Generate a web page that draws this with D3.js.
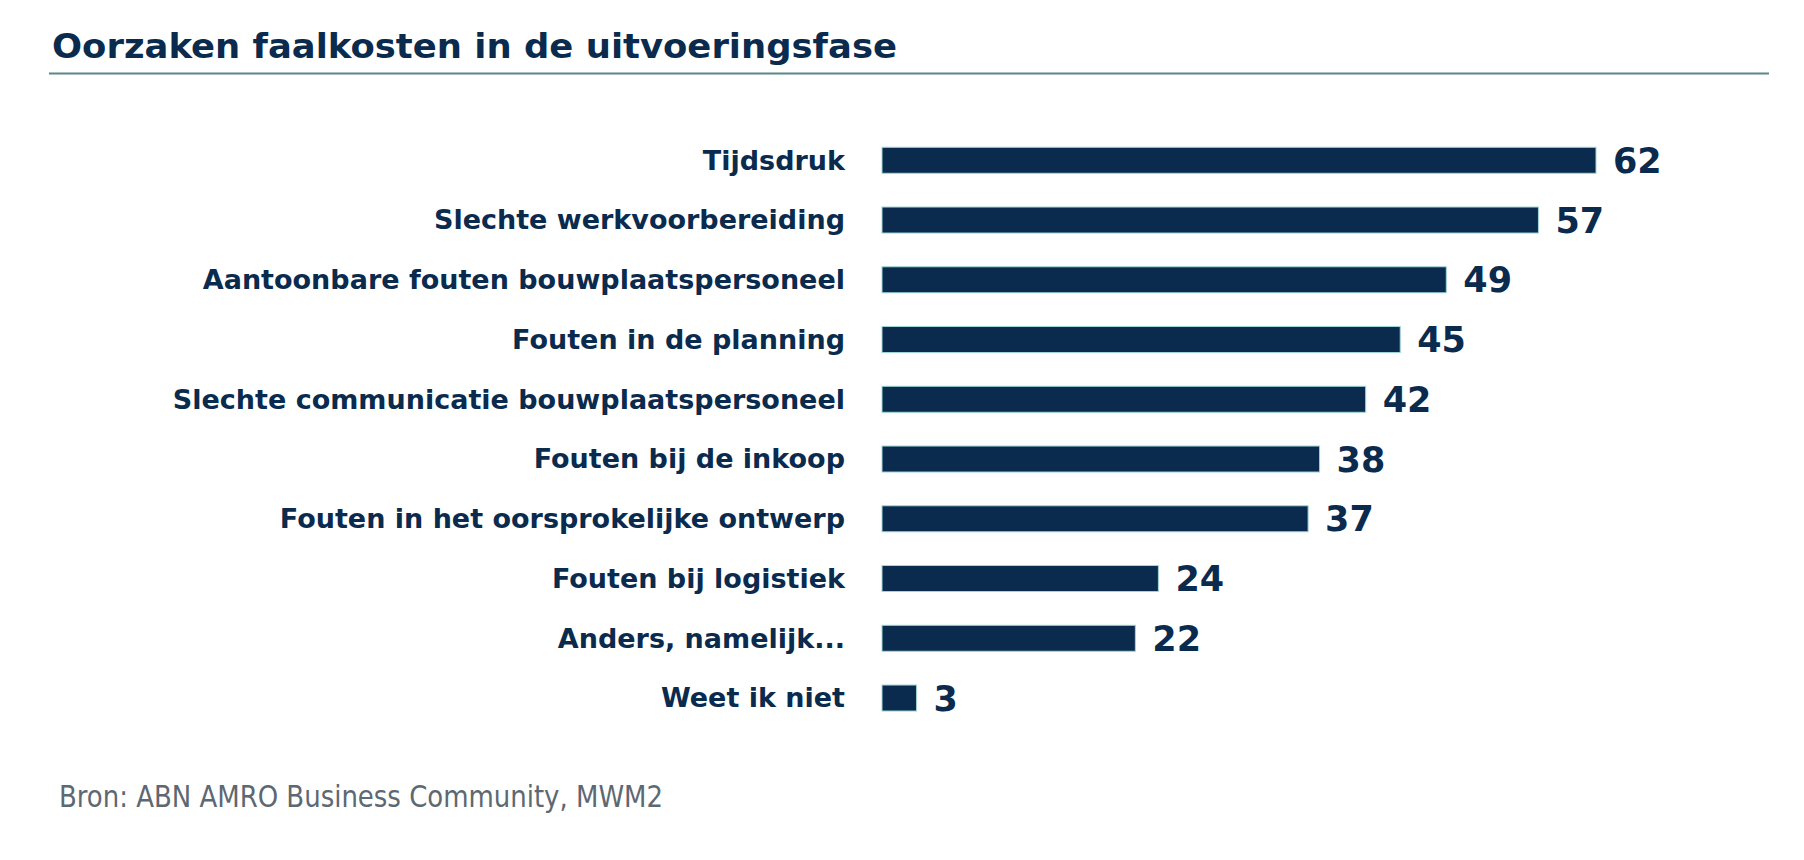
<!DOCTYPE html>
<html>
<head>
<meta charset="utf-8">
<script src="https://cdn.jsdelivr.net/npm/d3@7"></script>
<style>
  body { margin: 0; background: #fff; }
</style>
</head>
<body>
<svg id="chart" width="1804" height="860"></svg>
<script>
// data
var categories = [
  "Tijdsdruk",
  "Slechte werkvoorbereiding",
  "Aantoonbare fouten bouwplaatspersoneel",
  "Fouten in de planning",
  "Slechte communicatie bouwplaatspersoneel",
  "Fouten bij de inkoop",
  "Fouten in het oorsprokelijke ontwerp",
  "Fouten bij logistiek",
  "Anders, namelijk...",
  "Weet ik niet"
];
var values = [62, 57, 49, 45, 42, 38, 37, 24, 22, 3];

var titleText = "Oorzaken faalkosten in de uitvoeringsfase";
var sourceText = "Bron: ABN AMRO Business Community, MWM2";

var navy = "#0a2b4e";
var boldFont = "'DejaVu Sans', 'Open Sans', sans-serif";
var rows = categories.map(function(c, i){ return {name: c, value: values[i]}; });

var svg = d3.select("#chart");

// Title + rule
svg.append("text")
    .attr("x", 52)
    .attr("y", 58)
    .attr("fill", navy)
    .attr("font-family", boldFont)
    .attr("font-weight", 700)
    .attr("font-size", 34)
    .attr("textLength", 845)
    .attr("lengthAdjust", "spacingAndGlyphs")
    .text(titleText);

svg.append("line")
    .attr("x1", 49).attr("x2", 1769)
    .attr("y1", 73.5).attr("y2", 73.5)
    .attr("stroke", "#5d8787")
    .attr("stroke-width", 2);

// scales
var x = d3.scaleLinear()
    .domain([0, 62])
    .range([882, 1596]);

var y = d3.scaleBand()
    .domain(categories)
    .range([130.4, 727.9])
    .paddingInner(0.565)
    .paddingOuter(0.2825);

// Bars
var bars = svg.append("g").attr("id", "bars")
    .selectAll("rect.bar")
    .data(rows);
bars.enter()
    .append("rect")
    .attr("class", "bar")
    .attr("x", x(0))
    .attr("y", function(d){ return y(d.name); })
    .attr("width", function(d){ return x(d.value) - x(0); })
    .attr("height", y.bandwidth())
    .attr("fill", navy)
    .attr("stroke", "#9fd6d6")
    .attr("stroke-width", 1);

// Category labels
svg.append("g").attr("id", "labels")
    .selectAll("text.cat")
    .data(rows)
    .enter()
    .append("text")
    .attr("class", "cat")
    .attr("x", x(0) - 37)
    .attr("y", function(d){ return y(d.name) + y.bandwidth() / 2; })
    .attr("dy", "0.35em")
    .attr("text-anchor", "end")
    .attr("fill", navy)
    .attr("font-family", boldFont)
    .attr("font-weight", 700)
    .attr("font-size", 27)
    .text(function(d){ return d.name; });

// Value labels
svg.append("g").attr("id", "values")
    .selectAll("text.val")
    .data(rows)
    .enter()
    .append("text")
    .attr("class", "val")
    .attr("x", function(d){ return x(d.value) + 17; })
    .attr("y", function(d){ return y(d.name) + y.bandwidth() / 2; })
    .attr("dy", "0.36em")
    .attr("fill", navy)
    .attr("font-family", boldFont)
    .attr("font-weight", 700)
    .attr("font-size", 35)
    .text(function(d){ return d.value; });

// Source
svg.append("text")
    .attr("x", 59)
    .attr("y", 807)
    .attr("fill", "#5d6872")
    .attr("font-family", "'Liberation Sans Narrow', 'DejaVu Sans Condensed', sans-serif")
    .attr("font-size", 31)
    .attr("textLength", 604)
    .attr("lengthAdjust", "spacingAndGlyphs")
    .text(sourceText);
</script>
</body>
</html>
